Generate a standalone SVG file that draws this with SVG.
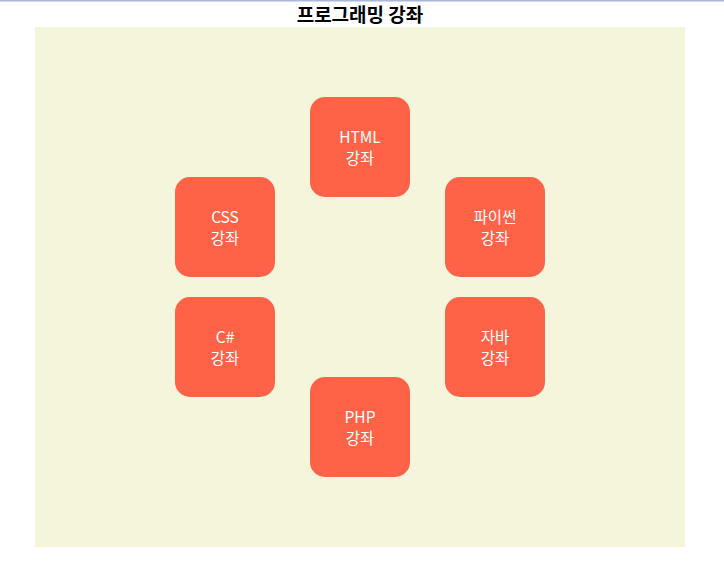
<svg xmlns="http://www.w3.org/2000/svg" width="724" height="573" viewBox="0 0 724 573">
<style>
.box{fill:#ff6347;}
.lbl{fill:#ffffff;font-family:"Noto Sans CJK KR","Noto Sans",sans-serif;font-size:15.5px;text-anchor:middle;}
.title{fill:#000;font-family:"Noto Sans CJK KR",sans-serif;font-size:19px;font-weight:bold;text-anchor:middle;}
</style>
<rect x="0" y="0" width="724" height="573" fill="#ffffff"/>
<rect x="0" y="0" width="724" height="1.5" fill="#a8b8d8"/>
<text class="title" x="360" y="22">프로그래밍 강좌</text>
<rect x="35" y="27" width="650" height="520" fill="#f5f5dc"/>
<g id="html"><rect class="box" x="310" y="97" width="100" height="100" rx="15"/><text class="lbl" x="360" y="143">HTML</text><text class="lbl" x="360" y="164">강좌</text></g>
<g id="css"><rect class="box" x="175" y="177" width="100" height="100" rx="15"/><text class="lbl" x="225" y="223">CSS</text><text class="lbl" x="225" y="244">강좌</text></g>
<g id="python"><rect class="box" x="445" y="177" width="100" height="100" rx="15"/><text class="lbl" x="495" y="223">파이썬</text><text class="lbl" x="495" y="244">강좌</text></g>
<g id="csharp"><rect class="box" x="175" y="297" width="100" height="100" rx="15"/><text class="lbl" x="225" y="343">C#</text><text class="lbl" x="225" y="364">강좌</text></g>
<g id="java"><rect class="box" x="445" y="297" width="100" height="100" rx="15"/><text class="lbl" x="495" y="343">자바</text><text class="lbl" x="495" y="364">강좌</text></g>
<g id="php"><rect class="box" x="310" y="377" width="100" height="100" rx="15"/><text class="lbl" x="360" y="423">PHP</text><text class="lbl" x="360" y="444">강좌</text></g>
<g id="connectors"></g>
</svg>
